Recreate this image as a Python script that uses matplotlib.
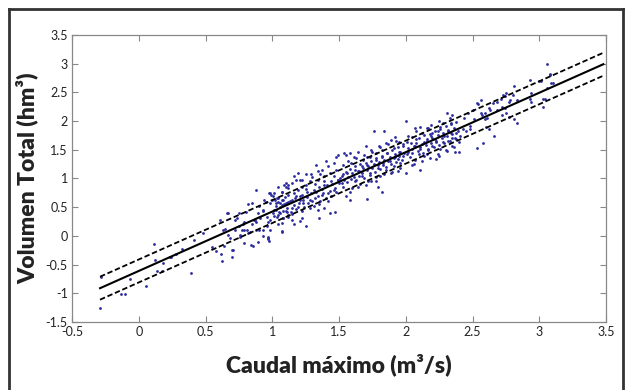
import numpy as np
import matplotlib.pyplot as plt
from matplotlib.lines import Line2D

plt.rcParams['font.family'] = ['Lato', 'DejaVu Sans']

# puntos (caudal máximo, volumen total)
caudal_a = [-0.29, -0.28, -0.13, -0.105, -0.067, 0.058, 0.116, 0.125, 0.14, 0.175, 0.18, 0.232, 0.245,
            0.282, 0.325, 0.39, 0.412, 0.482, 0.545, 0.582, 0.607, 0.617, 0.627, 0.665, 0.63, 0.648,
            0.67, 0.695, 0.707, 0.687, 0.72, 0.733, 0.757, 0.77, 0.79, 0.782, 0.807, 0.82, 0.832, 0.852,
            0.857, 0.862, 0.875, 0.882, 0.897, 0.9, 0.892, 0.79, 0.76, 0.81, 0.85, 0.87, 0.79, 0.75,
            0.72, 0.66, 0.75, 0.82, 0.84, 0.64, 0.70]
volumen_a = [-1.26, -0.71, -1.01, -1.01, -0.756, -0.873, -0.136, -0.42, -0.606, -0.606, -0.467, -0.362, -0.362,
             -0.31, -0.223, -0.646, -0.07, 0.045, -0.2, -0.258, 0.277, -0.315, -0.43, 0.394, 0.103, 0.115,
             0.016, -0.362, -0.246, -0.042, 0.277, 0.306, -0.014, 0.103, 0.103, 0.207, 0.422, 0.045, 0.073, 0.567,
             -0.17, 0.277, 0.247, 0.80, -0.101, 0.103, 0.394, -0.12, 0.02, 0.11, 0.20, 0.28, 0.25, 0.17,
             0.11, 0.40, 0.40, 0.55, -0.15, -0.18, -0.24]

caudal_b = [0.977, 0.987, 0.982, 1.007, 0.952, 1.02, 1.032, 1.045, 1.057, 1.07, 1.082, 1.095, 1.107, 1.12,
            1.102, 1.12, 1.07, 0.932, 0.957, 0.97, 0.982, 1.007, 1.032, 1.045, 1.07, 1.082, 1.107, 1.12,
            0.97, 0.977, 0.932,
            1.16, 1.19, 1.21, 1.25, 1.33, 1.40, 1.48, 1.04, 1.09, 1.12, 1.15, 1.22, 1.28, 1.34, 1.39, 1.43,
            1.48, 1.01, 1.04, 1.07, 1.10, 1.15, 1.18, 1.22, 1.26, 1.31, 1.35, 1.39, 1.44, 1.49, 1.03, 1.06,
            1.10, 1.15, 1.19, 1.23, 1.28, 1.32, 1.37, 1.42, 1.46, 1.07, 1.15, 1.22, 1.25, 1.35, 1.34, 1.39,
            1.43, 1.47, 1.07, 0.97, 0.97, 0.98, 1.16, 1.21, 1.01, 1.04, 1.12, 1.16, 1.21, 1.25, 1.29, 1.37,
            1.42, 1.46, 1.49, 1.54, 1.34, 1.22, 1.07, 1.03, 1.00, 0.98,
            0.90, 0.93, 0.94, 0.91, 0.96, 0.88, 0.93,
            1.01, 1.03, 1.05, 1.06, 1.08, 1.09, 1.11, 1.13, 1.14, 1.16, 1.17, 1.18, 1.20, 1.21, 1.23, 1.24,
            1.26, 1.27, 1.29, 1.30, 1.31, 1.33, 1.34, 1.36, 1.37, 1.38, 1.40, 1.41, 1.43, 1.44, 1.45, 1.47,
            1.48, 1.49, 1.12, 1.19, 1.25, 1.32, 1.39, 1.46, 1.08, 1.15, 1.22, 1.28, 1.35, 1.42, 1.30, 1.36,
            1.18, 1.10]
volumen_b = [0.742, 0.712, 0.567, 0.695, 0.596, 0.625, 0.655, 0.596, 0.567, 0.538, 0.625, 0.684, 0.567, 0.596,
             0.857, 0.887, 0.77, 0.451, 0.335, 0.248, 0.277, 0.393, 0.335, 0.364, 0.073, 0.306, 0.422, 0.335,
             -0.04, -0.083, 0.103,
             1.04, 1.09, 0.98, 1.07, 1.24, 1.30, 1.38, 0.86, 0.89, 0.83, 0.92, 0.86, 0.95, 0.98, 1.04, 1.09,
             1.15, 0.74, 0.66, 0.63, 0.57, 0.63, 0.69, 0.72, 0.77, 0.80, 0.86, 0.89, 0.95, 0.98, 0.45, 0.40,
             0.43, 0.49, 0.51, 0.57, 0.63, 0.66, 0.72, 0.74, 0.80, 0.23, 0.28, 0.31, 0.17, 0.31, 0.45, 0.49,
             0.40, 0.41, 0.08, -0.06, -0.02, 0.11, 0.20, 0.26, 0.34, 0.20, 0.37, 0.74, 0.63, 0.89, 1.07, 1.15,
             1.21, 1.27, 1.41, 1.44, 1.13, 0.98, 0.77, 0.57, 0.63, 0.74,
             0.52, 0.43, 0.63, 0.31, 0.17, 0.11, -0.01,
             0.45, 0.52, 0.41, 0.50, 0.44, 0.55, 0.48, 0.60, 0.42, 0.53, 0.66, 0.47, 0.58, 0.70, 0.62, 0.50,
             0.68, 0.57, 0.74, 0.61, 0.52, 0.77, 0.69, 0.60, 0.82, 0.75, 0.66, 0.88, 0.79, 0.70, 0.91, 0.84,
             0.76, 0.97, 0.72, 0.80, 0.82, 0.91, 0.96, 1.04, 0.32, 0.38, 0.44, 0.48, 0.55, 0.60, 1.02, 1.07,
             0.97, 0.93]

caudal_c = [1.76, 1.84, 1.82, 1.71, 1.79, 1.78, 1.58, 1.55, 1.61, 1.64, 1.70, 1.74, 1.80, 1.85, 1.89, 1.92,
            1.95, 1.82, 1.78, 1.71, 1.67, 1.62, 1.56, 1.52, 1.50, 1.53, 1.58, 1.55, 1.58, 1.62, 1.67, 1.73,
            1.79, 1.83, 1.88, 1.92, 1.96, 1.94, 1.89, 1.85, 1.81, 1.74, 1.70, 1.64, 1.68, 1.73, 1.78, 1.82,
            1.86, 1.91, 1.95, 1.98, 1.53, 1.59, 1.65, 1.71,
            1.51, 1.52, 1.53, 1.54, 1.55, 1.56, 1.57, 1.58, 1.59, 1.60, 1.61, 1.62, 1.63, 1.64, 1.65, 1.66,
            1.67, 1.68, 1.69, 1.70, 1.71, 1.72, 1.73, 1.74, 1.75, 1.76, 1.77, 1.78, 1.79, 1.80, 1.81, 1.82,
            1.83, 1.84, 1.85, 1.86, 1.87, 1.88, 1.89, 1.90, 1.91, 1.92, 1.93, 1.94, 1.95, 1.96, 1.97, 1.98,
            1.99, 1.57, 1.63, 1.69, 1.75, 1.81, 1.87, 1.93, 1.60, 1.66, 1.72, 1.78, 1.84, 1.90, 1.96]
volumen_c = [1.82, 1.83, 0.77, 0.64, 0.86, 0.95, 1.44, 1.41, 1.38, 1.47, 1.56, 1.50, 1.56, 1.62, 1.67, 1.73,
             1.64, 1.38, 1.32, 1.24, 1.21, 1.15, 1.09, 1.04, 0.92, 0.86, 0.77, 0.69, 0.63, 0.95, 1.04, 1.09,
             1.18, 1.24, 1.30, 1.37, 1.27, 1.13, 1.09, 1.15, 1.04, 0.95, 0.89, 0.86, 1.32, 1.38, 1.44, 1.50,
             1.44, 1.53, 1.47, 1.56, 1.24, 1.27, 1.13, 1.38,
             1.00, 0.92, 1.08, 0.98, 1.12, 0.94, 1.03, 1.16, 0.99, 1.10, 1.02, 1.21, 0.97, 1.13, 1.04, 1.25,
             1.09, 1.18, 1.00, 1.27, 1.14, 1.22, 1.06, 1.30, 1.19, 1.26, 1.12, 1.35, 1.23, 1.29, 1.16, 1.40,
             1.27, 1.33, 1.20, 1.45, 1.31, 1.38, 1.25, 1.50, 1.36, 1.42, 1.29, 1.55, 1.40, 1.46, 1.33, 1.60,
             1.44, 1.30, 1.36, 1.41, 1.47, 1.55, 1.60, 1.66, 0.84, 0.90, 0.96, 1.02, 1.08, 1.12, 1.18]

caudal_d = [2.0, 2.05, 2.07, 2.11, 2.17, 2.19, 2.26, 2.28, 2.31, 2.35, 2.11, 2.05, 2.0, 2.14, 2.16, 2.23,
            2.25, 2.31, 2.35, 2.37, 2.28, 2.29, 2.34, 2.22, 2.20, 2.17, 2.11, 2.10, 2.07, 2.02, 2.01, 2.02,
            2.08, 2.12, 2.16, 2.20, 2.23, 2.26, 2.32, 2.35, 2.38, 2.24, 2.19, 2.14, 2.05, 1.98, 1.94, 1.91,
            2.01, 2.02, 2.03, 2.04, 2.05, 2.06, 2.07, 2.08, 2.09, 2.10, 2.11, 2.12, 2.13, 2.14, 2.15, 2.16,
            2.17, 2.18, 2.19, 2.20, 2.21, 2.22, 2.23, 2.24, 2.25, 2.26, 2.27, 2.28, 2.29, 2.30, 2.31, 2.32,
            2.33, 2.34, 2.35, 2.36, 2.37, 2.38, 2.39, 2.06, 2.12, 2.18, 2.24, 2.30, 2.36, 2.08, 2.16, 2.25,
            2.33]
volumen_d = [2.01, 1.73, 1.88, 1.90, 1.88, 1.94, 1.90, 1.96, 2.14, 2.11, 1.15, 1.24, 1.09, 1.40, 1.42, 1.34,
             1.40, 1.48, 1.57, 1.46, 1.63, 1.74, 1.80, 1.69, 1.57, 1.52, 1.55, 1.43, 1.57, 1.46, 1.63, 1.74,
             1.69, 1.80, 1.69, 1.80, 1.63, 1.52, 1.66, 1.71, 1.80, 1.83, 1.74, 1.63, 1.52, 1.40, 1.34, 1.21,
             1.42, 1.53, 1.38, 1.61, 1.45, 1.56, 1.33, 1.62, 1.48, 1.70, 1.51, 1.60, 1.44, 1.75, 1.58, 1.66,
             1.49, 1.78, 1.62, 1.71, 1.55, 1.83, 1.66, 1.75, 1.58, 1.86, 1.70, 1.79, 1.62, 1.91, 1.74, 1.84,
             1.66, 1.95, 1.78, 1.88, 1.70, 1.99, 1.82, 1.25, 1.30, 1.36, 1.42, 1.50, 1.55, 1.82, 1.88, 2.00,
             2.06]

caudal_e = [3.057, 3.08, 3.08, 2.93, 3.0, 3.01, 3.09, 3.1, 3.06, 3.03, 3.04, 3.03, 2.94, 2.93, 2.94, 2.81,
            2.80, 2.83, 2.77, 2.78, 2.74, 2.73, 2.75, 2.71, 2.68, 2.65, 2.72, 2.74, 2.75, 2.77, 2.81, 2.83,
            2.72, 2.66, 2.58, 2.53, 2.60, 2.62, 2.59, 2.61, 2.56, 2.53, 2.54, 2.56, 2.62, 2.63, 2.68, 2.57,
            2.59, 2.50, 2.51, 2.47, 2.44, 2.48, 2.45, 2.41, 2.43, 2.48, 2.40, 2.38, 2.40, 2.34, 2.32]
volumen_e = [2.99, 2.80, 2.82, 2.71, 2.70, 2.70, 2.66, 2.66, 2.57, 2.38, 2.38, 2.24, 2.49, 2.38, 2.34, 2.61,
             2.46, 2.37, 2.34, 2.37, 2.43, 2.46, 2.49, 2.38, 2.34, 2.31, 2.25, 2.22, 2.14, 2.08, 2.03, 1.97,
             2.11, 1.74, 1.62, 1.53, 1.89, 1.86, 2.03, 2.05, 2.14, 2.31, 2.30, 2.37, 2.22, 2.20, 2.19, 2.11,
             2.14, 2.20, 2.03, 2.14, 2.05, 1.92, 1.83, 1.74, 1.86, 1.86, 1.46, 1.69, 1.63, 1.97, 1.83]

# recta de regresión e intervalo
pendiente = 1.035
ordenada = -0.611
banda = 0.2
x_recta = [-0.29, 3.48]

caudal = np.array(caudal_a + caudal_b + caudal_c + caudal_d + caudal_e)
volumen = np.array(volumen_a + volumen_b + volumen_c + volumen_d + volumen_e)

fig = plt.figure(figsize=(6.25, 3.9), dpi=100)
ax = fig.add_axes([72 / 625, 1 - 322 / 390, 534 / 625, 287 / 390])

ax.scatter(caudal, volumen, s=4, color='#2b2b9c', linewidths=0, zorder=2)

xr = np.array(x_recta)
yr = pendiente * xr + ordenada
ax.plot(xr, yr, color='black', lw=1.5, zorder=3)
ax.plot(xr, yr + banda, color='black', lw=1.3, ls=(0, (3, 1.5)), zorder=3)
ax.plot(xr, yr - banda, color='black', lw=1.3, ls=(0, (3, 1.5)), zorder=3)

ax.set_xlim(-0.5, 3.5)
ax.set_ylim(-1.5, 3.5)
ax.set_xticks(np.arange(-0.5, 3.51, 0.5))
ax.set_yticks(np.arange(-1.5, 3.51, 0.5))
ax.set_xticklabels(['-0.5', '0', '0.5', '1', '1.5', '2', '2.5', '3', '3.5'])
ax.set_yticklabels(['-1.5', '-1', '-0.5', '0', '0.5', '1', '1.5', '2', '2.5', '3', '3.5'])
ax.tick_params(direction='in', top=True, right=True, length=4, width=0.8, color='#888888',
               labelsize=9, labelcolor='#222222', pad=3)
for s in ax.spines.values():
    s.set_color('#888888')
    s.set_linewidth(0.9)

ax.set_xlabel('Caudal máximo (m³/s)', fontsize=16.5, fontweight='heavy', color='#222222', labelpad=11)
ax.set_ylabel('Volumen Total (hm³)', fontsize=16.5, fontweight='heavy', color='#222222', labelpad=5)

# marco exterior
fc = '#333333'
fig.add_artist(Line2D([9 / 625, 9 / 625], [0, 1 - 9 / 390], color=fc, lw=2))
fig.add_artist(Line2D([9 / 625, 623 / 625], [1 - 9 / 390, 1 - 9 / 390], color=fc, lw=2))
fig.add_artist(Line2D([623 / 625, 623 / 625], [0, 1 - 9 / 390], color=fc, lw=2))

fig.savefig('out.png', dpi=100)
